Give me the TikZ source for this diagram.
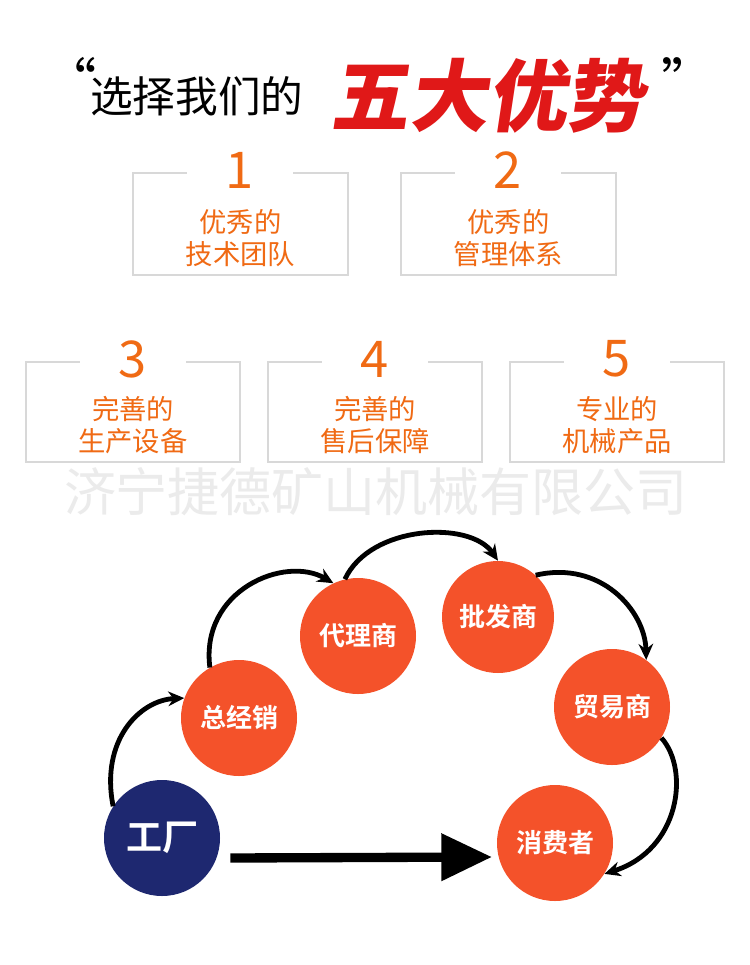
\documentclass[tikz,border=0pt]{standalone}
\usepackage{fontspec}
\newfontfamily\cjk{Noto Sans CJK SC}
\newfontfamily\cjkb{Noto Sans CJK SC Bold}
\newfontfamily\cjkh{Noto Sans CJK SC Black}
\usetikzlibrary{arrows.meta}
\definecolor{org}{HTML}{F06A14}
\definecolor{circ}{HTML}{F4522A}
\definecolor{navy}{HTML}{1E2870}
\definecolor{boxg}{HTML}{D8D8D8}
\definecolor{tred}{HTML}{E01818}
\begin{document}
\begin{tikzpicture}[x=0.75pt,y=-0.75pt,
  frame/.style={draw=boxg,line width=2.2pt},
  num/.style={text=org,font=\cjk\fontsize{38}{38}\selectfont,fill=white,inner sep=2pt},
  lbl/.style={text=org,font=\cjk\fontsize{20.5}{24}\selectfont,align=center},
  bub/.style={circle,fill=circ,minimum size=87pt,inner sep=0pt,text=white,font=\cjkb\fontsize{19.5}{20}\selectfont},
  flow/.style={line width=3.6pt,-{Stealth[length=12pt,width=11pt]}}]
\useasboundingbox (0,0) rectangle (750,965);
\fill[white] (0,0) rectangle (750,965);
% title
\node[inner sep=0pt] (q1) at (70,80) {\cjk\fontsize{40}{40}\selectfont “};
\node[anchor=west,inner sep=0pt] (t1) at (90,96) {\cjk\fontsize{32}{32}\selectfont 选择我们的};
\node[anchor=west,text=tred,xslant=0.15,inner sep=0pt] (t2) at (335,96) {\cjkh\fontsize{59}{59}\selectfont 五大优势};
\node[inner sep=0pt] (q2) at (688,80) {\cjk\fontsize{40}{40}\selectfont ”};
% boxes
\foreach \n/\xa/\xb/\ya/\yb/\t in {b1/133/348/173/275/{优秀的\\技术团队},b2/401/616/173/275/{优秀的\\管理体系},b3/26/240/362/462/{完善的\\生产设备},b4/268/482/362/462/{完善的\\售后保障},b5/510/724/362/462/{专业的\\机械产品}}{
  \draw[frame] (\xa,\ya) rectangle (\xb,\yb);
  \node[lbl] (\n) at ({(\xa+\xb)/2},{\yb-37}) {\t};
}
\node[num,minimum width=80pt] (n1) at (240,170) {1};
\node[num,minimum width=80pt] (n2) at (508,170) {2};
\node[num,minimum width=80pt] (n3) at (133,359) {3};
\node[num,minimum width=80pt] (n4) at (375,359) {4};
\node[num,minimum width=80pt] (n5) at (617,359) {5};
% watermark
\node[text=black!8] (wm) at (376,492) {\cjk\fontsize{39}{39}\selectfont 济宁捷德矿山机械有限公司};
% circles
\node[bub,fill=navy,font=\cjkb\fontsize{27}{27}\selectfont] (c0) at (162,838) {工厂};
\node[bub] (c1) at (239,718) {总经销};
\node[bub] (c2) at (358,636) {代理商};
\node[bub,minimum size=84pt] (c3) at (498,617) {批发商};
\node[bub] (c4) at (612,707) {贸易商};
\node[bub] (c5) at (555,843) {消费者};
\draw[flow] (c0.147) .. controls (100,740) and (140,700) .. (c1.160);
\draw[flow] (c1.120) .. controls (200,590) and (285,555) .. (c2.115);
\draw[flow] (c2.103) .. controls (370,525) and (470,520) .. (c3.90);
\draw[flow] (c3.48) .. controls (600,560) and (645,610) .. (c4.54);
\draw[flow] (c4.-32) .. controls (690,770) and (680,850) .. (c5.-32);
\draw[line width=7pt,-{Triangle[length=38pt,width=34pt]}] (c0.east) ++(10,20) coordinate (s5) -- (492,857);
\end{tikzpicture}
\end{document}
